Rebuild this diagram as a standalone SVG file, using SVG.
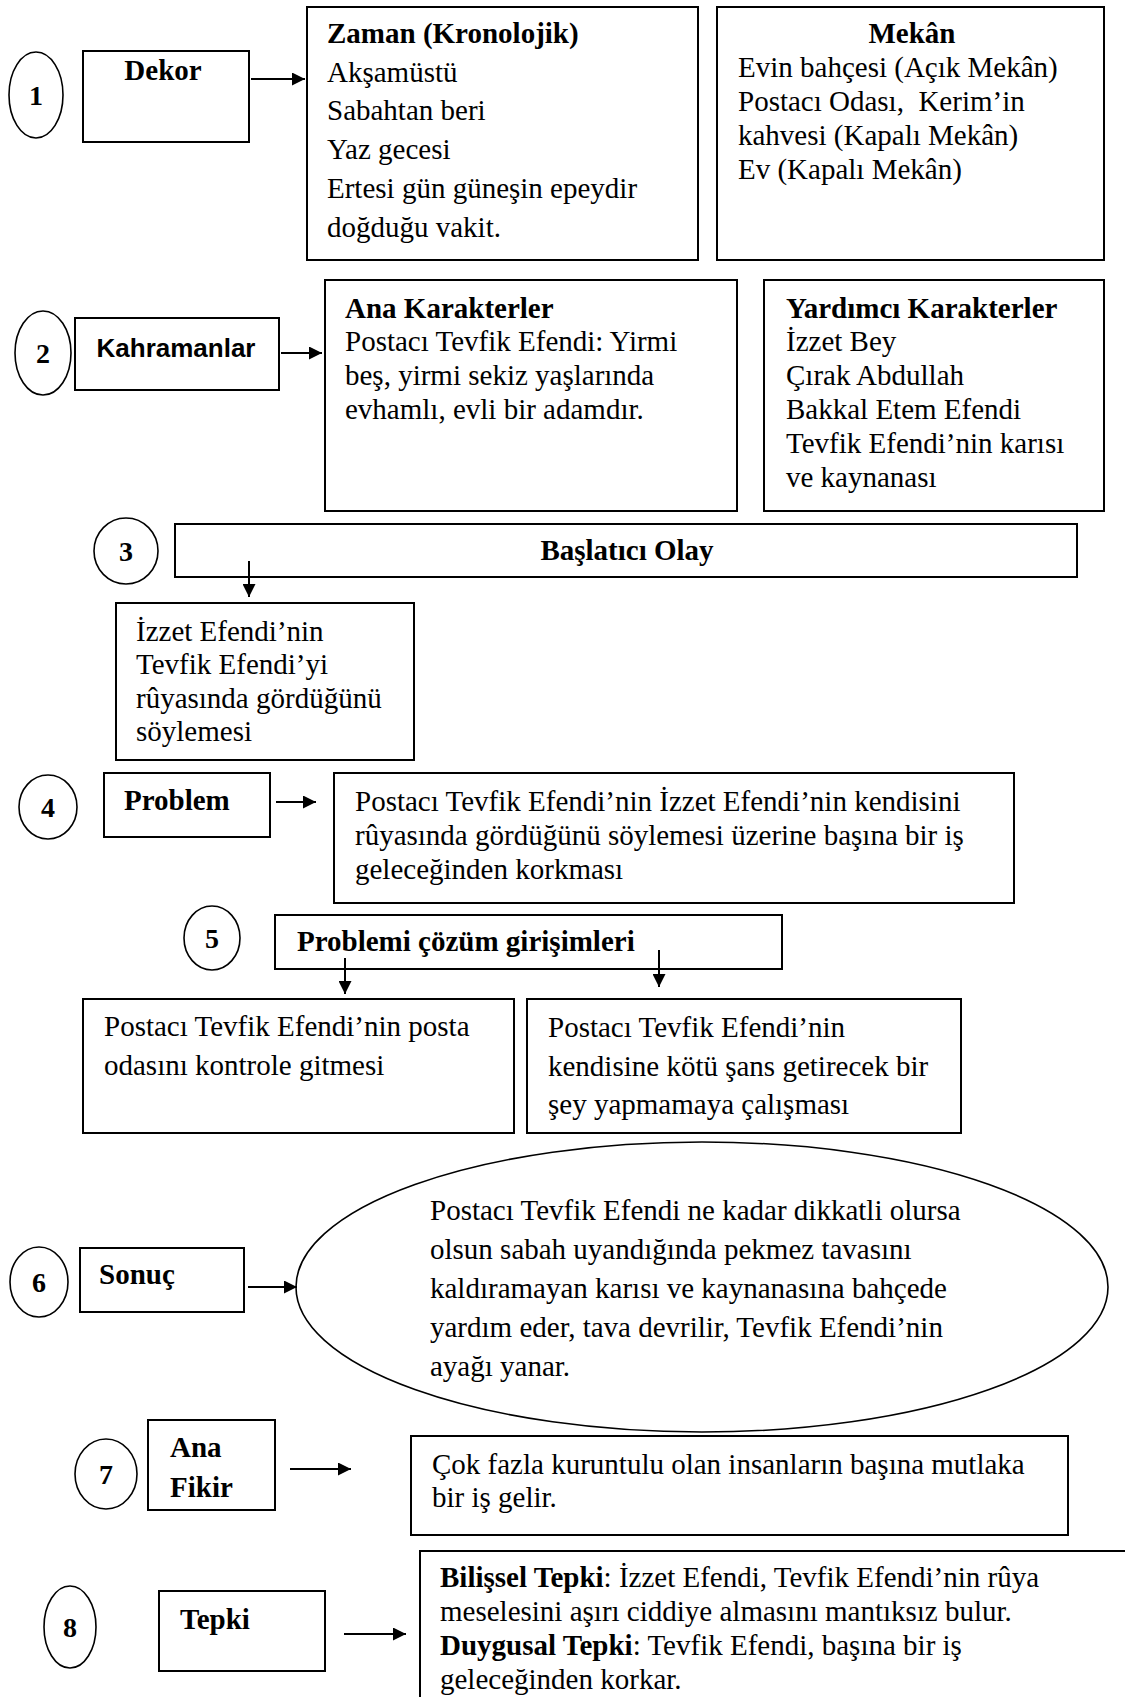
<svg xmlns="http://www.w3.org/2000/svg" width="1125" height="1697" viewBox="0 0 1125 1697">
<style>
  text { font-family: "Liberation Serif", "Times New Roman", serif; font-size: 29px; fill: #000; }
  .b { font-weight: bold; }
  .num { font-weight: bold; font-size: 28px; text-anchor: middle; }
  .mid { text-anchor: middle; }
  .sans { font-family: "Liberation Sans", Arial, sans-serif; font-weight: bold; font-size: 26px; }
  .box { fill: #fff; stroke: #000; stroke-width: 2; }
  .circ { fill: #fff; stroke: #000; stroke-width: 1.6; }
  .con { stroke: #000; stroke-width: 2; fill: none; marker-end: url(#ah); }
</style>
<defs>
  <marker id="ah" viewBox="0 0 12 12" refX="12" refY="6" markerWidth="13" markerHeight="13" markerUnits="userSpaceOnUse" orient="auto">
    <path d="M0,0 L12,6 L0,12 z" fill="#000"/>
  </marker>
</defs>
<rect width="1125" height="1697" fill="#fff"/>

<!-- Section 1 -->
<g id="n1-circle"><ellipse class="circ" cx="36" cy="95" rx="27" ry="43"/><text class="num" x="36" y="105">1</text></g>
<g id="n1-dekor"><rect class="box" x="83" y="51" width="166" height="91"/><text class="b mid" x="163" y="80">Dekor</text></g>
<g id="n1-zaman"><rect class="box" x="307" y="7" width="391" height="253"/>
  <text class="b" x="327" y="43">Zaman (Kronolojik)</text>
  <text x="327" y="82">Akşamüstü</text>
  <text x="327" y="120">Sabahtan beri</text>
  <text x="327" y="159">Yaz gecesi</text>
  <text x="327" y="198">Ertesi gün güneşin epeydir</text>
  <text x="327" y="237">doğduğu vakit.</text>
</g>
<g id="n1-mekan"><rect class="box" x="717" y="7" width="387" height="253"/>
  <text class="b mid" x="912" y="43">Mekân</text>
  <text x="738" y="77">Evin bahçesi (Açık Mekân)</text>
  <text x="738" y="111" xml:space="preserve">Postacı Odası,  Kerim’in</text>
  <text x="738" y="145">kahvesi (Kapalı Mekân)</text>
  <text x="738" y="179">Ev (Kapalı Mekân)</text>
</g>

<!-- Section 2 -->
<g id="n2-circle"><ellipse class="circ" cx="43" cy="353" rx="28" ry="42"/><text class="num" x="43" y="363">2</text></g>
<g id="n2-kahramanlar"><rect class="box" x="75" y="318" width="204" height="72"/><text class="sans mid" x="176" y="357">Kahramanlar</text></g>
<g id="n2-ana"><rect class="box" x="325" y="280" width="412" height="231"/>
  <text class="b" x="345" y="318">Ana Karakterler</text>
  <text x="345" y="351">Postacı Tevfik Efendi: Yirmi</text>
  <text x="345" y="385">beş, yirmi sekiz yaşlarında</text>
  <text x="345" y="419">evhamlı, evli bir adamdır.</text>
</g>
<g id="n2-yardimci"><rect class="box" x="764" y="280" width="340" height="231"/>
  <text class="b" x="786" y="318">Yardımcı Karakterler</text>
  <text x="786" y="351">İzzet Bey</text>
  <text x="786" y="385">Çırak Abdullah</text>
  <text x="786" y="419">Bakkal Etem Efendi</text>
  <text x="786" y="453">Tevfik Efendi’nin karısı</text>
  <text x="786" y="487">ve kaynanası</text>
</g>

<!-- Section 3 -->
<g id="n3-circle"><ellipse class="circ" cx="126" cy="551" rx="32" ry="33"/><text class="num" x="126" y="561">3</text></g>
<g id="n3-baslatici"><rect class="box" x="175" y="524" width="902" height="53"/><text class="b mid" x="627" y="560">Başlatıcı Olay</text></g>
<g id="n3-izzet"><rect class="box" x="116" y="603" width="298" height="157"/>
  <text x="136" y="641">İzzet Efendi’nin</text>
  <text x="136" y="674">Tevfik Efendi’yi</text>
  <text x="136" y="708">rûyasında gördüğünü</text>
  <text x="136" y="741">söylemesi</text>
</g>

<!-- Section 4 -->
<g id="n4-circle"><ellipse class="circ" cx="48" cy="807" rx="29" ry="32"/><text class="num" x="48" y="817">4</text></g>
<g id="n4-problem"><rect class="box" x="104" y="773" width="166" height="64"/><text class="b" x="124" y="810">Problem</text></g>
<g id="n4-text"><rect class="box" x="334" y="773" width="680" height="130"/>
  <text x="355" y="811">Postacı Tevfik Efendi’nin İzzet Efendi’nin kendisini</text>
  <text x="355" y="845">rûyasında gördüğünü söylemesi üzerine başına bir iş</text>
  <text x="355" y="879">geleceğinden korkması</text>
</g>

<!-- Section 5 -->
<g id="n5-circle"><ellipse class="circ" cx="212" cy="938" rx="28" ry="32"/><text class="num" x="212" y="948">5</text></g>
<g id="n5-girisim"><rect class="box" x="275" y="915" width="507" height="54"/><text class="b" x="297" y="951">Problemi çözüm girişimleri</text></g>
<g id="n5-left"><rect class="box" x="83" y="999" width="431" height="134"/>
  <text x="104" y="1036">Postacı Tevfik Efendi’nin posta</text>
  <text x="104" y="1075">odasını kontrole gitmesi</text>
</g>
<g id="n5-right"><rect class="box" x="527" y="999" width="434" height="134"/>
  <text x="548" y="1037">Postacı Tevfik Efendi’nin</text>
  <text x="548" y="1076">kendisine kötü şans getirecek bir</text>
  <text x="548" y="1114">şey yapmamaya çalışması</text>
</g>

<!-- Section 6 -->
<g id="n6-circle"><ellipse class="circ" cx="39" cy="1282" rx="29" ry="35"/><text class="num" x="39" y="1292">6</text></g>
<g id="n6-sonuc"><rect class="box" x="80" y="1248" width="164" height="64"/><text class="b" x="99" y="1284">Sonuç</text></g>
<g id="n6-ellipse"><ellipse class="circ" cx="702" cy="1287" rx="406" ry="145"/>
  <text x="430" y="1220">Postacı Tevfik Efendi ne kadar dikkatli olursa</text>
  <text x="430" y="1259">olsun sabah uyandığında pekmez tavasını</text>
  <text x="430" y="1298">kaldıramayan karısı ve kaynanasına bahçede</text>
  <text x="430" y="1337">yardım eder, tava devrilir, Tevfik Efendi’nin</text>
  <text x="430" y="1376">ayağı yanar.</text>
</g>

<!-- Section 7 -->
<g id="n7-circle"><ellipse class="circ" cx="106" cy="1474" rx="31" ry="35"/><text class="num" x="106" y="1484">7</text></g>
<g id="n7-anafikir"><rect class="box" x="148" y="1420" width="127" height="90"/>
  <text class="b" x="170" y="1457">Ana</text>
  <text class="b" x="170" y="1497">Fikir</text>
</g>
<g id="n7-text"><rect class="box" x="411" y="1436" width="657" height="99"/>
  <text x="432" y="1474">Çok fazla kuruntulu olan insanların başına mutlaka</text>
  <text x="432" y="1507">bir iş gelir.</text>
</g>

<!-- Section 8 -->
<g id="n8-circle"><ellipse class="circ" cx="70" cy="1627" rx="26" ry="41"/><text class="num" x="70" y="1637">8</text></g>
<g id="n8-tepki"><rect class="box" x="159" y="1591" width="166" height="80"/><text class="b" x="180" y="1629">Tepki</text></g>
<g id="n8-text"><rect class="box" x="420" y="1551" width="720" height="170"/>
  <text x="440" y="1587"><tspan class="b">Bilişsel Tepki</tspan>: İzzet Efendi, Tevfik Efendi’nin rûya</text>
  <text x="440" y="1621">meselesini aşırı ciddiye almasını mantıksız bulur.</text>
  <text x="440" y="1655"><tspan class="b">Duygusal Tepki</tspan>: Tevfik Efendi, başına bir iş</text>
  <text x="440" y="1689">geleceğinden korkar.</text>
</g>

<!-- Connectors -->
<g id="connectors">
  <line class="con" x1="251" y1="79" x2="305" y2="79"/>
  <line class="con" x1="281" y1="353" x2="322" y2="353"/>
  <line class="con" x1="249" y1="561" x2="249" y2="597"/>
  <line class="con" x1="276" y1="802" x2="316" y2="802"/>
  <line class="con" x1="345" y1="958" x2="345" y2="994"/>
  <line class="con" x1="659" y1="950" x2="659" y2="987"/>
  <line class="con" x1="248" y1="1287" x2="297" y2="1287"/>
  <line class="con" x1="290" y1="1469" x2="351" y2="1469"/>
  <line class="con" x1="344" y1="1634" x2="406" y2="1634"/>
</g>
</svg>
